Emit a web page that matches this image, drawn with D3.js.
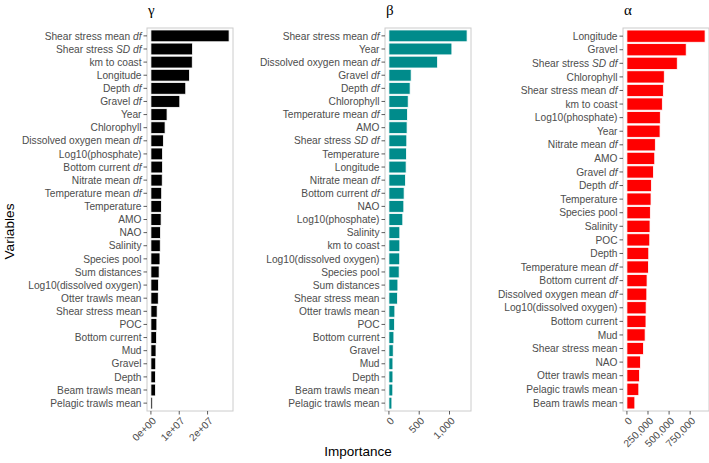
<!DOCTYPE html>
<html><head><meta charset="utf-8">
<script src="https://cdn.jsdelivr.net/npm/d3@7"></script>
<style>body{margin:0;background:#fff}svg{display:block}</style>
</head><body>
<svg id="c" width="709" height="463"></svg>
<script>
// ---- data ----
const gammaVars = ["Shear stress mean df","Shear stress SD df","km to coast","Longitude","Depth df","Gravel df","Year","Chlorophyll","Dissolved oxygen mean df","Log10(phosphate)","Bottom current df","Nitrate mean df","Temperature mean df","Temperature","AMO","NAO","Salinity","Species pool","Sum distances","Log10(dissolved oxygen)","Otter trawls mean","Shear stress mean","POC","Bottom current","Mud","Gravel","Depth","Beam trawls mean","Pelagic trawls mean"];
const gammaVals = [2.76e7,1.47e7,1.46e7,1.36e7,1.23e7,1.02e7,0.57e7,0.50e7,0.44e7,0.41e7,0.41e7,0.40e7,0.38e7,0.37e7,0.36e7,0.34e7,0.33e7,0.32e7,0.29e7,0.27e7,0.26e7,0.22e7,0.21e7,0.20e7,0.18e7,0.17e7,0.16e7,0.16e7,0.06e7];
const gammaTicks = [0,1e7,2e7];
const gammaTickLabels = ["0e+00","1e+07","2e+07"];

const betaVars = ["Shear stress mean df","Year","Dissolved oxygen mean df","Gravel df","Depth df","Chlorophyll","Temperature mean df","AMO","Shear stress SD df","Temperature","Longitude","Nitrate mean df","Bottom current df","NAO","Log10(phosphate)","Salinity","km to coast","Log10(dissolved oxygen)","Species pool","Sum distances","Shear stress mean","Otter trawls mean","POC","Bottom current","Gravel","Mud","Depth","Beam trawls mean","Pelagic trawls mean"];
const betaVals = [1290,1039,803,367,350,318,306,300,295,289,284,273,251,246,229,180,180,178,169,148,142,98,93,82,71,66,66,64,49];
const betaTicks = [0,500,1000];
const betaTickLabels = ["0","500","1,000"];

const alphaVars = ["Longitude","Gravel","Shear stress SD df","Chlorophyll","Shear stress mean df","km to coast","Log10(phosphate)","Year","Nitrate mean df","AMO","Gravel df","Depth df","Temperature","Species pool","Salinity","POC","Depth","Temperature mean df","Bottom current df","Dissolved oxygen mean df","Log10(dissolved oxygen)","Bottom current","Mud","Shear stress mean","NAO","Otter trawls mean","Pelagic trawls mean","Beam trawls mean"];
const alphaVals = [927000,703000,597000,443000,432000,420000,396000,393000,337000,330000,314000,290000,286000,278000,274000,271000,259000,255000,239000,236000,228000,226000,216000,196000,161000,149000,141000,94000];
const alphaTicks = [0,250000,500000,750000];
const alphaTickLabels = ["0","250,000","500,000","750,000"];

const panelTitles = ["γ","β","α"];
const panelColors = ["#000000","#008B8B","#FF0000"];
const xTitle = "Importance";
const yTitle = "Variables";

// ---- layout ----
const svg = d3.select("#c");
const FONT = "'Liberation Sans', Arial, sans-serif";
const pTop = 28, pBottom = 411, pw = 86;
const panels = [
  {left:147, vars:gammaVars, vals:gammaVals, ticks:gammaTicks, labels:gammaTickLabels},
  {left:385, vars:betaVars, vals:betaVals, ticks:betaTicks, labels:betaTickLabels},
  {left:623, vars:alphaVars, vals:alphaVals, ticks:alphaTicks, labels:alphaTickLabels}
];

function addLabel(sel, s){
  const toks = s.split(" ");
  toks.forEach((t,i)=>{
    const ital = (t==="df"||t==="SD");
    sel.append("tspan").attr("font-style", ital?"italic":"normal").text((i>0?" ":"")+t);
  });
}

panels.forEach((p,pi)=>{
  const M = d3.max(p.vals);
  const x = d3.scaleLinear().domain([-0.05*M, 1.05*M]).range([p.left, p.left+pw]);
  const y = d3.scalePoint().domain(p.vars).range([pTop,pBottom]).padding(0.6);
  const bh = y.step()*0.9;
  const g = svg.append("g");
  g.append("rect").attr("x",p.left).attr("y",pTop).attr("width",pw).attr("height",pBottom-pTop)
    .attr("fill","#fff").attr("stroke","#cccccc").attr("stroke-width",1);
  g.selectAll("rect.bar").data(p.vars).enter().append("rect").attr("class","bar")
    .attr("x", x(0)).attr("y", d=>y(d)-bh/2)
    .attr("width", (d,i)=>x(p.vals[i])-x(0)).attr("height", bh)
    .attr("fill", panelColors[pi]).attr("stroke","#fff").attr("stroke-width",0.8);
  p.vars.forEach(v=>{
    g.append("line").attr("x1",p.left-3.5).attr("x2",p.left).attr("y1",y(v)).attr("y2",y(v))
      .attr("stroke","#333").attr("stroke-width",0.8);
    const t = g.append("text").attr("x",p.left-5.5).attr("y",y(v)).attr("dy","0.36em")
      .attr("text-anchor","end").attr("font-family",FONT).attr("font-size",10.2).attr("fill","#4d4d4d");
    addLabel(t, v);
  });
  p.ticks.forEach((tv,ti)=>{
    const tx = x(tv);
    g.append("line").attr("x1",tx).attr("x2",tx).attr("y1",pBottom).attr("y2",pBottom+3.5)
      .attr("stroke","#333").attr("stroke-width",0.8);
    g.append("text").attr("transform",`translate(${tx+3.3},${pBottom+8}) rotate(-45)`)
      .attr("text-anchor","end").attr("dy","0.36em").attr("font-family",FONT).attr("font-size",10.2)
      .attr("fill","#4d4d4d").text(p.labels[ti]);
  });
  svg.append("text").attr("x",p.left+1).attr("y",15).attr("font-family","'Liberation Serif','DejaVu Serif',serif")
    .attr("font-size",15).attr("fill","#000").text(panelTitles[pi]);
});

svg.append("text").attr("x",358).attr("y",456).attr("text-anchor","middle")
  .attr("font-family",FONT).attr("font-size",13.5).attr("fill","#000").text(xTitle);
svg.append("text").attr("transform","translate(14,231.5) rotate(-90)").attr("text-anchor","middle")
  .attr("font-family",FONT).attr("font-size",13.7).attr("fill","#000").text(yTitle);
</script>
</body></html>
